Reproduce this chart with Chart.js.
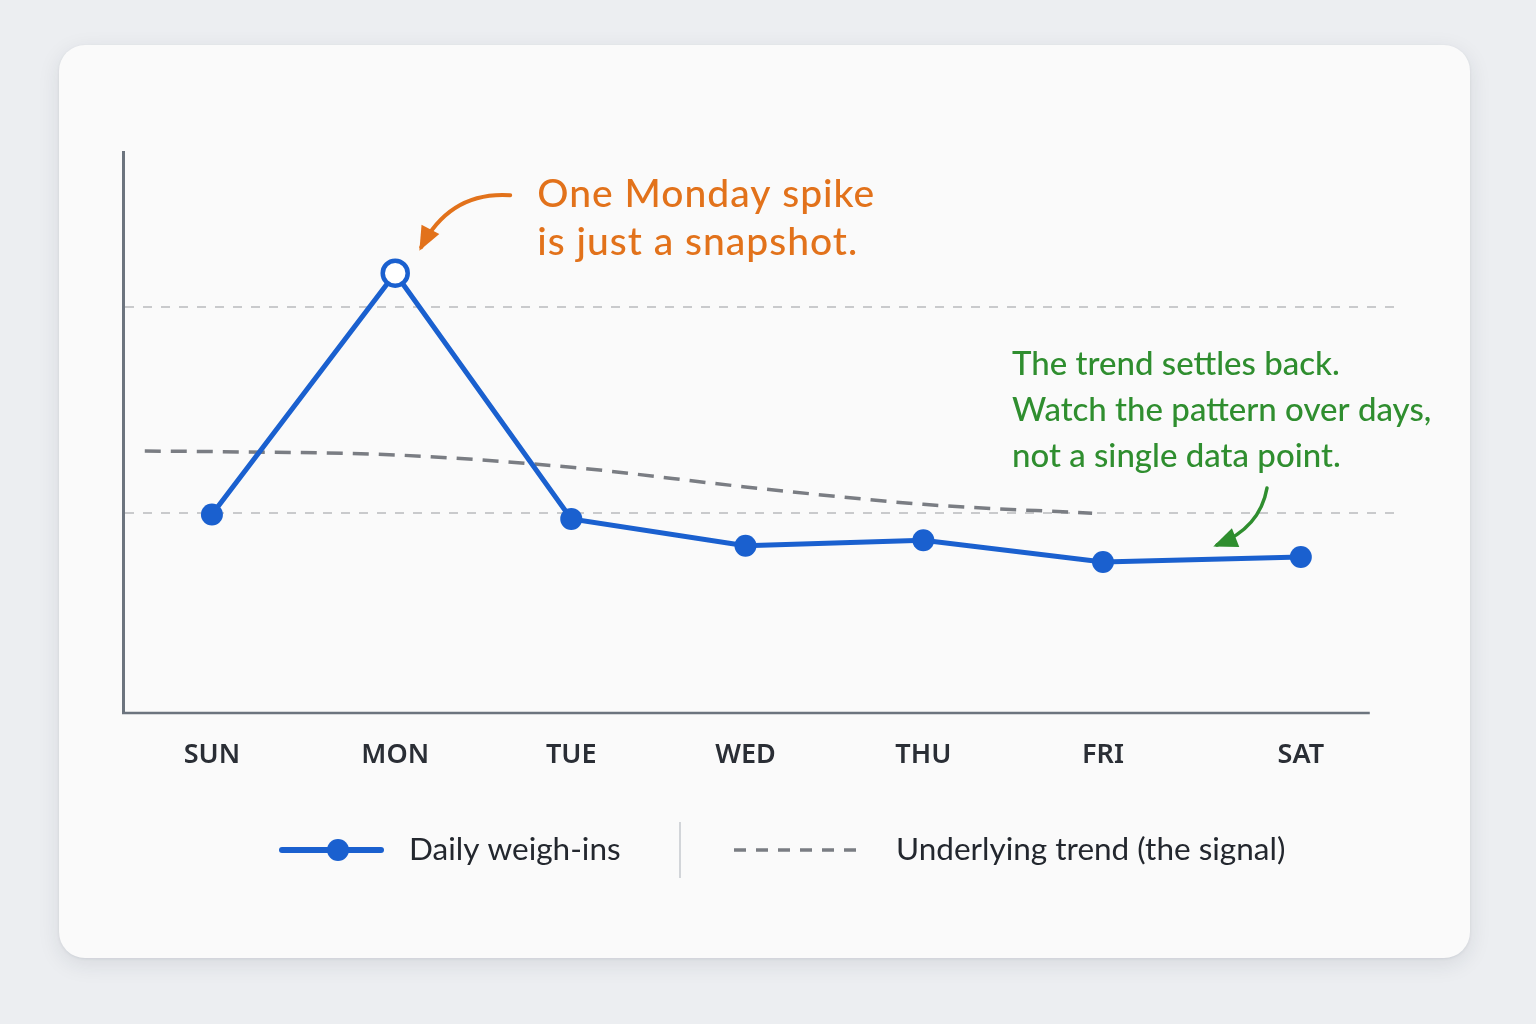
<!DOCTYPE html>
<html lang="en">
<head>
<meta charset="UTF-8">
<title>Daily weigh-ins vs underlying trend</title>
<script src="https://cdn.jsdelivr.net/npm/chart.js"></script>
<style>
  html, body { margin: 0; padding: 0; background: #eceef1; }
  body { width: 1536px; height: 1024px; position: relative; overflow: hidden; }
  .card {
    position: absolute; left: 59px; top: 45px; width: 1411px; height: 913px;
    background: #fafafa; border-radius: 26px;
    box-shadow: 0 6px 22px rgba(30, 40, 60, 0.10), 0 1px 3px rgba(30, 40, 60, 0.08);
  }
  #chart { position: absolute; left: 0; top: 0; }
</style>
</head>
<body>
<div class="card"></div>
<canvas id="chart" width="1536" height="1024"></canvas>
<script>
// data (arbitrary weight units, axis has no tick labels)
const days = ['SUN', 'MON', 'TUE', 'WED', 'THU', 'FRI', 'SAT'];
const dayPos = [0, 1.01, 1.98, 2.94, 3.92, 4.91, 6]; // weigh-in time, in days from Sunday
const weighIns = [35.4, 78.4, 34.6, 29.8, 30.8, 26.9, 27.8];
const trendX = [-0.37, 0, 1.01, 1.98, 2.94, 3.92, 4.85];
const trendY = [46.7, 46.6, 46.0, 43.8, 40.3, 37.2, 35.6];
const refLines = [35.65, 72.4];

const blue = '#1a60cf';
const trendGray = '#7a7d83';
const axisColor = '#6c747e';
const orange = '#e2721b';
const green = '#2f8e2f';
const spikeIndex = weighIns.indexOf(Math.max(...weighIns));

// curved annotation arrow with a filled head
function drawArrow(ctx, p0, cp, p1, color, width) {
  ctx.save();
  ctx.strokeStyle = color;
  ctx.fillStyle = color;
  ctx.lineWidth = width;
  ctx.lineCap = 'round';
  ctx.beginPath();
  ctx.moveTo(p0[0], p0[1]);
  ctx.quadraticCurveTo(cp[0], cp[1], p1[0], p1[1]);
  ctx.stroke();
  const a = Math.atan2(p1[1] - cp[1], p1[0] - cp[0]);
  const len = 20, half = 10;
  ctx.beginPath();
  ctx.moveTo(p1[0] + Math.cos(a) * 4, p1[1] + Math.sin(a) * 4);
  ctx.lineTo(p1[0] - Math.cos(a) * len + Math.sin(a) * half, p1[1] - Math.sin(a) * len - Math.cos(a) * half);
  ctx.lineTo(p1[0] - Math.cos(a) * len - Math.sin(a) * half, p1[1] - Math.sin(a) * len + Math.cos(a) * half);
  ctx.closePath();
  ctx.fill();
  ctx.restore();
}

const notes = {
  id: 'notes',
  beforeDatasetsDraw(chart) {
    // x axis line stops a little short of the grid lines
    const { ctx, chartArea, scales: { x } } = chart;
    ctx.save();
    ctx.strokeStyle = axisColor;
    ctx.lineWidth = 2.5;
    ctx.beginPath();
    ctx.moveTo(chartArea.left - 1, chartArea.bottom);
    ctx.lineTo(x.getPixelForValue(6.38), chartArea.bottom);
    ctx.stroke();
    ctx.restore();
  },
  afterDatasetsDraw(chart) {
    const { ctx, scales: { x, y } } = chart;
    const mx = x.getPixelForValue(dayPos[spikeIndex]), my = y.getPixelForValue(weighIns[spikeIndex]);

    ctx.save();
    ctx.textAlign = 'left';
    ctx.textBaseline = 'alphabetic';
    ctx.fillStyle = orange;
    ctx.font = '500 39px Lato';
    ctx.letterSpacing = '1px';
    ctx.fillText('One Monday spike', mx + 142, my - 66);
    ctx.fillText('is just a snapshot.', mx + 142, my - 18);
    ctx.letterSpacing = '0px';
    drawArrow(ctx, [mx + 115, my - 78], [mx + 55, my - 82], [mx + 26, my - 26], orange, 4);

    ctx.fillStyle = green;
    ctx.font = '500 33px Lato';
    ctx.fillText('The trend settles back.', 1012, 375);
    ctx.fillText('Watch the pattern over days,', 1012, 421);
    ctx.fillText('not a single data point.', 1012, 467);
    drawArrow(ctx, [1267, 488], [1260, 528], [1217, 545], green, 3.5);
    ctx.restore();
  },
  afterDraw(chart) {
    const { ctx } = chart;
    const ds0 = chart.data.datasets[0], ds1 = chart.data.datasets[1];
    const ly = 850;
    ctx.save();
    ctx.lineCap = 'round';
    ctx.strokeStyle = ds0.borderColor;
    ctx.lineWidth = 6;
    ctx.beginPath(); ctx.moveTo(282, ly); ctx.lineTo(381, ly); ctx.stroke();
    ctx.fillStyle = ds0.borderColor;
    ctx.beginPath(); ctx.arc(338, ly, 11, 0, Math.PI * 2); ctx.fill();

    ctx.fillStyle = '#23272e';
    ctx.font = '400 31.5px Lato';
    ctx.textBaseline = 'middle';
    ctx.fillText(ds0.label, 409, ly);

    ctx.strokeStyle = '#d2d5d9';
    ctx.lineWidth = 2;
    ctx.lineCap = 'butt';
    ctx.beginPath(); ctx.moveTo(680, 822); ctx.lineTo(680, 878); ctx.stroke();

    ctx.strokeStyle = ds1.borderColor;
    ctx.lineWidth = 3.5;
    ctx.setLineDash([12, 10]);
    ctx.beginPath(); ctx.moveTo(734, ly); ctx.lineTo(856, ly); ctx.stroke();
    ctx.setLineDash([]);
    ctx.fillText(ds1.label, 896, ly);
    ctx.restore();
  }
};

new Chart(document.getElementById('chart'), {
  type: 'line',
  data: {
    datasets: [
      {
        label: 'Daily weigh-ins',
        data: weighIns.map((v, i) => ({ x: dayPos[i], y: v })),
        borderColor: blue,
        borderWidth: 5,
        pointRadius: ctx => ctx.dataIndex === spikeIndex ? 12.5 : 11,
        pointBorderWidth: ctx => ctx.dataIndex === spikeIndex ? 4.5 : 0,
        pointBackgroundColor: ctx => ctx.dataIndex === spikeIndex ? '#ffffff' : blue,
        pointBorderColor: blue,
        tension: 0
      },
      {
        label: 'Underlying trend (the signal)',
        data: trendX.map((v, i) => ({ x: v, y: trendY[i] })),
        borderColor: trendGray,
        borderWidth: 3.5,
        borderDash: [16, 10],
        pointRadius: 0,
        cubicInterpolationMode: 'monotone'
      }
    ]
  },
  options: {
    responsive: false,
    animation: false,
    layout: { padding: { left: 123, top: 152, right: 139, bottom: 251 } },
    plugins: { legend: { display: false }, tooltip: { enabled: false } },
    scales: {
      x: {
        type: 'linear',
        min: -0.49,
        max: 6.53,
        afterBuildTicks: scale => { scale.ticks = dayPos.map(p => ({ value: p })); },
        afterFit: scale => { scale.height = 60; },
        grid: { display: false, drawTicks: false },
        border: { display: false },
        ticks: {
          autoSkip: false,
          maxRotation: 0,
          padding: 26,
          color: '#2a2e35',
          font: { family: 'Noto Sans', size: 27, weight: '600' },
          callback: v => days[dayPos.indexOf(v)]
        }
      },
      y: {
        min: 0,
        max: 100,
        afterBuildTicks: scale => { scale.ticks = refLines.map(v => ({ value: v })); },
        afterFit: scale => { scale.width = 0; },
        ticks: { display: false },
        grid: { color: '#c9cacc', lineWidth: 2, drawTicks: false },
        border: { display: true, color: axisColor, width: 3, dash: [9, 9] }
      }
    }
  },
  plugins: [notes]
});
</script>
</body>
</html>
